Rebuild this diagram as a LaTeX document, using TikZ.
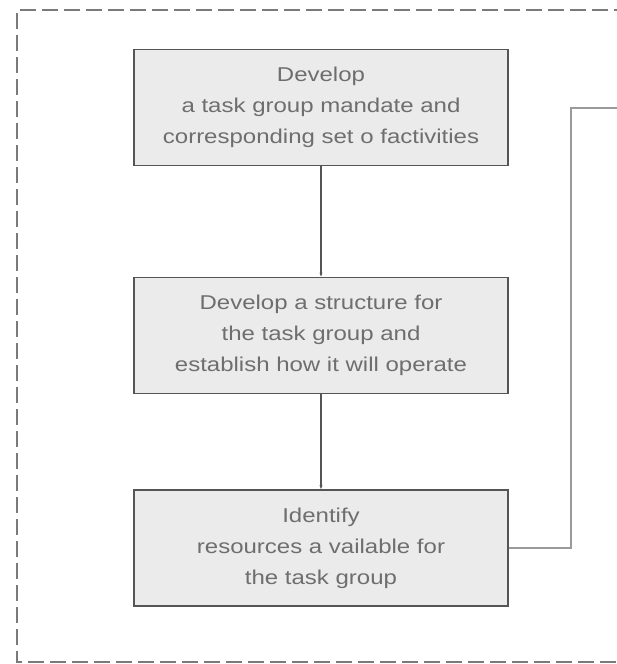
\documentclass[tikz,border=0pt]{standalone}
\usepackage{fontspec}
\setmainfont[FakeStretch=1.2]{Liberation Sans}
\usetikzlibrary{arrows.meta}
\definecolor{boxfill}{HTML}{EBEBEB}
\definecolor{boxline}{HTML}{555555}
\definecolor{txt}{HTML}{6E6E6E}
\definecolor{frame}{HTML}{7A7A7A}
\definecolor{feed}{HTML}{9A9A9A}
\begin{document}
\begin{tikzpicture}[x=1pt,y=-1pt,
  stepbox/.style={draw=boxline, line width=1.8pt, fill=boxfill, minimum width=374pt,
    minimum height=116pt, inner sep=0pt, align=center, text=txt,
    font=\fontsize{20}{31}\selectfont},
  flow/.style={draw=boxline, line width=1.6pt, -{Stealth[length=4pt,width=3pt]}},
  feedline/.style={draw=feed, line width=1.8pt},
  outer/.style={draw=frame, line width=1.8pt, dash pattern=on 16pt off 6pt}]
\useasboundingbox (0,0) rectangle (616,664);
% dashed enclosure, open to the right
\draw[outer] (630,10) -- (17,10) -- (17,662) -- (630,662);
% process steps
\node[stepbox] (s1) at (321,107.5) {Develop\\a task group mandate and\\corresponding set o factivities};
\node[stepbox] (s2) at (321,335.5) {Develop a structure for\\the task group and\\establish how it will operate};
\node[stepbox] (s3) at (321,548) {Identify\\resources a vailable for\\the task group};
% connectors
\draw[flow] (s1.south) -- (s2.north);
\draw[flow] (s2.south) -- (s3.north);
\coordinate (c1) at (571,548);
\coordinate (c2) at (571,108);
\coordinate (c3) at (630,108);
\draw[feedline] (s3.east) -- (c1) -- (c2) -- (c3);
\end{tikzpicture}
\end{document}
